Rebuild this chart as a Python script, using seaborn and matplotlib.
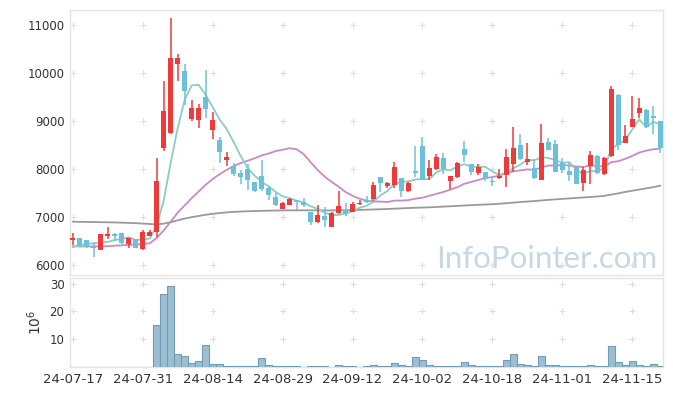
import numpy as np
import pandas as pd
import matplotlib
matplotlib.use("Agg")
import matplotlib.pyplot as plt
import seaborn as sns

sns.set_theme(style="white")
plt.rcParams['font.family'] = ['DejaVu Sans']

# Korean trading days (market holidays removed)
holidays = ["2024-08-15", "2024-09-16", "2024-09-17", "2024-09-18",
            "2024-10-01", "2024-10-03", "2024-10-09"]
dates = pd.bdate_range("2024-07-17", "2024-11-21", freq="C", holidays=holidays)

open_ = [6510, 6560, 6520, 6380, 6310, 6600, 6640, 6670, 6430, 6540,
         6330, 6610, 6690, 8430, 8740, 10180, 10040, 9040, 9020, 9490,
         8810, 8600, 8190, 8060, 7920, 7990, 7730, 7850, 7610, 7410,
         7170, 7250, 7340, 7310, 7110, 6900, 7020, 6800, 7080, 7150,
         7110, 7260, 7350, 7370, 7830, 7650, 7670, 7810, 7550, 7950,
         8480, 7850, 7990, 8220, 7740, 7840, 8410, 8100, 7910, 7940,
         7730, 7810, 7880, 8100, 8500, 8140, 8010, 7770, 8560, 8510,
         8130, 7960, 8050, 7700, 8070, 8260, 7900, 8260, 9540, 8550,
         8880, 9170, 9230, 9100, 8990]
high = [6670, 6570, 6520, 6450, 6640, 6800, 6670, 6670, 6570, 6550,
        6730, 6720, 8220, 9830, 11140, 10390, 10190, 9440, 9350, 10060,
        9180, 8660, 8360, 8120, 7970, 8100, 7730, 8190, 7650, 7490,
        7310, 7400, 7350, 7390, 7110, 7250, 7200, 7100, 7540, 7290,
        7320, 7350, 7440, 7720, 7830, 7720, 8150, 7810, 7720, 8470,
        8670, 8190, 8310, 8330, 7850, 8150, 8580, 8100, 8100, 7940,
        7810, 7990, 8410, 8870, 8720, 8550, 8200, 8930, 8640, 8600,
        8220, 8130, 8050, 8040, 8380, 8280, 8240, 9730, 9560, 8920,
        9520, 9470, 9240, 9320, 8990]
low = [6420, 6380, 6350, 6160, 6310, 6540, 6490, 6430, 6350, 6350,
       6310, 6600, 6590, 8380, 8720, 9830, 9330, 8990, 8850, 9060,
       8620, 8120, 8070, 7860, 7690, 7560, 7510, 7530, 7350, 7230,
       7160, 7240, 7150, 7210, 6830, 6880, 6800, 6790, 7060, 7010,
       7100, 7250, 7290, 7340, 7510, 7600, 7600, 7420, 7510, 7840,
       7760, 7760, 7980, 7900, 7580, 7810, 8150, 7880, 7880, 7740,
       7650, 7790, 7620, 7940, 8190, 8080, 7800, 7760, 8400, 7940,
       7910, 7740, 7690, 7550, 7690, 7900, 7880, 8240, 8400, 8550,
       8880, 9060, 8850, 8730, 8330]
close = [6570, 6420, 6370, 6350, 6640, 6640, 6600, 6450, 6560, 6350,
         6690, 6690, 7750, 9210, 10310, 10310, 9630, 9260, 9260, 9250,
         9020, 8360, 8250, 7900, 7840, 7770, 7550, 7580, 7460, 7250,
         7290, 7380, 7320, 7240, 6890, 7040, 6940, 7090, 7230, 7060,
         7270, 7290, 7320, 7670, 7700, 7710, 8040, 7530, 7700, 7920,
         7760, 8010, 8250, 7990, 7850, 8120, 8280, 7940, 8050, 7790,
         7720, 7850, 8240, 8440, 8200, 8200, 7810, 8540, 8400, 7940,
         7970, 7880, 7690, 7980, 8290, 7910, 8220, 9670, 8500, 8690,
         9040, 9260, 8870, 9060, 8430]

ma5 = [6370, 6410, 6440, 6450, 6470, 6480, 6520, 6540, 6580, 6520,
       6530, 6550, 6810, 7340, 8130, 8850, 9440, 9740, 9750, 9540,
       9290, 9030, 8830, 8560, 8270, 8020, 7860, 7730, 7640, 7520,
       7430, 7390, 7340, 7300, 7220, 7170, 7090, 7040, 7040, 7070,
       7120, 7190, 7230, 7320, 7450, 7540, 7690, 7730, 7740, 7780,
       7790, 7790, 7930, 7990, 7970, 8050, 8100, 8040, 8050, 8040,
       7950, 7870, 7930, 8010, 8090, 8190, 8180, 8240, 8230, 8180,
       8130, 8140, 7980, 7890, 7960, 7950, 8020, 8410, 8520, 8600,
       8820, 9030, 8870, 8980, 8930]
ma20 = [6390, 6385, 6385, 6385, 6385, 6390, 6400, 6410, 6415, 6425,
        6435, 6450, 6560, 6720, 6900, 7090, 7240, 7390, 7530, 7670,
        7790, 7890, 7980, 8060, 8120, 8170, 8220, 8280, 8320, 8370,
        8400, 8430, 8410, 8310, 8140, 7980, 7840, 7730, 7630, 7520,
        7440, 7380, 7340, 7320, 7320, 7310, 7340, 7340, 7350, 7380,
        7400, 7440, 7480, 7520, 7570, 7620, 7690, 7730, 7770, 7810,
        7830, 7860, 7910, 7950, 7970, 7990, 7980, 8030, 8070, 8070,
        8080, 8070, 8050, 8040, 8070, 8060, 8050, 8140, 8160, 8210,
        8270, 8340, 8380, 8410, 8420]
ma60 = [6900, 6898, 6895, 6893, 6890, 6888, 6885, 6880, 6875, 6870,
        6862, 6852, 6845, 6860, 6890, 6930, 6965, 6995, 7020, 7045,
        7065, 7080, 7095, 7105, 7112, 7118, 7122, 7126, 7130, 7133,
        7135, 7137, 7138, 7138, 7137, 7136, 7135, 7136, 7138, 7140,
        7143, 7146, 7150, 7155, 7160, 7165, 7172, 7178, 7185, 7190,
        7195, 7200, 7207, 7215, 7222, 7230, 7238, 7245, 7252, 7258,
        7265, 7275, 7285, 7298, 7310, 7320, 7330, 7343, 7355, 7365,
        7375, 7385, 7395, 7405, 7415, 7425, 7438, 7465, 7490, 7520,
        7545, 7570, 7595, 7620, 7650]

# volume in millions of shares
volume = [0.02, 0.02, 0.02, 0.02, 0.02, 0.02, 0.02, 0.02, 0.02, 0.02,
          0.02, 0.02, 15.0, 26.3, 29.0, 4.8, 3.8, 1.6, 2.0, 7.8,
          1.2, 1.2, 0.5, 0.5, 0.5, 0.5, 0.2, 3.4, 0.6, 0.2,
          0.2, 0.2, 0.2, 0.02, 0.2, 0.2, 0.2, 0.02, 0.8, 0.2,
          0.2, 0.02, 0.2, 0.8, 0.5, 0.2, 1.6, 0.8, 0.5, 3.7,
          2.6, 0.8, 0.5, 0.5, 0.2, 0.5, 1.9, 0.8, 0.2, 0.2,
          0.2, 0.2, 2.6, 4.8, 1.2, 0.8, 0.5, 4.1, 0.8, 0.8,
          0.5, 0.2, 0.2, 0.5, 0.8, 0.2, 0.2, 7.7, 1.9, 0.8,
          2.3, 0.8, 0.5, 1.2, 0.5]

price_ticks = [6000, 7000, 8000, 9000, 10000, 11000]
vol_ticks = [10, 20, 30]

df = pd.DataFrame({"date": dates, "open": open_, "high": high, "low": low,
                   "close": close, "volume": volume,
                   "ma5": ma5, "ma20": ma20, "ma60": ma60})
df["pos"] = np.arange(len(df))
df["up"] = df["close"] >= df["open"]

RED = "#ef3a3c"
BLUE = "#6cc1d8"
GRID = "#dddddd"
TXT = "#333333"

fig = plt.figure(figsize=(6.73, 3.96), dpi=100)
W, H = 673, 396
ax = fig.add_axes([70 / W, 1 - 275 / H, 593 / W, 265 / H])
axv = fig.add_axes([70 / W, 1 - 367 / H, 593 / W, 89 / H])

tick_pos = df["pos"].values[::10]
tick_labels = df["date"].dt.strftime("%y-%m-%d").values[::10]

# moving averages
sns.lineplot(data=df, x="pos", y="ma60", ax=ax, color="#9a9a9a", lw=1.3, zorder=2)
sns.lineplot(data=df, x="pos", y="ma20", ax=ax, color="#c98ac6", lw=1.3, zorder=2)
sns.lineplot(data=df, x="pos", y="ma5", ax=ax, color="#8ccdc1", lw=1.3, zorder=2)

# candles
colors = np.where(df["up"], RED, BLUE)
ax.vlines(df["pos"], df["low"], df["high"], colors=colors, lw=1.1, zorder=3)
body_lo = np.minimum(df["open"], df["close"])
body_h = np.maximum(np.abs(df["close"] - df["open"]), 25)
ax.bar(df["pos"], body_h, bottom=body_lo, width=0.72, color=colors, lw=0, zorder=4)

# grid crosses
gx, gy = np.meshgrid(tick_pos, price_ticks)
ax.scatter(gx.ravel(), gy.ravel(), marker="+", s=18, color=GRID, lw=0.8, zorder=1)

ax.text(0.99, 0.026, "InfoPointer.com", transform=ax.transAxes, ha="right", va="baseline",
        fontsize=22.5, color="#c6d8e3", family=["Lato", "DejaVu Sans"], zorder=0)

ax.set_xlim(-0.4, 84.4)
ax.set_ylim(5790, 11310)
ax.set_yticks(price_ticks)
ax.set_yticklabels([str(v) for v in price_ticks])
ax.set_xticks(tick_pos)
ax.set_xticklabels([])
ax.set_xlabel("")
ax.set_ylabel("")

# volume
sns.barplot(data=df, x="pos", y="volume", ax=axv, native_scale=True, width=1.0,
            color="#9bbfd1", saturation=1, edgecolor="#6f9db7", linewidth=0.8, zorder=3)
vx, vy = np.meshgrid(tick_pos, vol_ticks)
axv.scatter(vx.ravel(), vy.ravel(), marker="+", s=18, color=GRID, lw=0.8, zorder=1)
axv.set_xlim(-0.4, 84.4)
axv.set_ylim(0, 32)
axv.set_yticks(vol_ticks)
axv.set_yticklabels([str(v) for v in vol_ticks])
axv.set_xticks(tick_pos)
axv.set_xticklabels(tick_labels)
axv.set_xlabel("")
axv.set_ylabel("10$^6$", fontsize=10, color=TXT, labelpad=4)

for a in (ax, axv):
    a.tick_params(axis="both", length=0, labelsize=8.5, colors=TXT, pad=4)
    for s in a.spines.values():
        s.set_color("#e4e4e4")
        s.set_linewidth(1)
axv.tick_params(axis="x", labelsize=9.5, pad=4)

fig.savefig("out.png", dpi=100)
